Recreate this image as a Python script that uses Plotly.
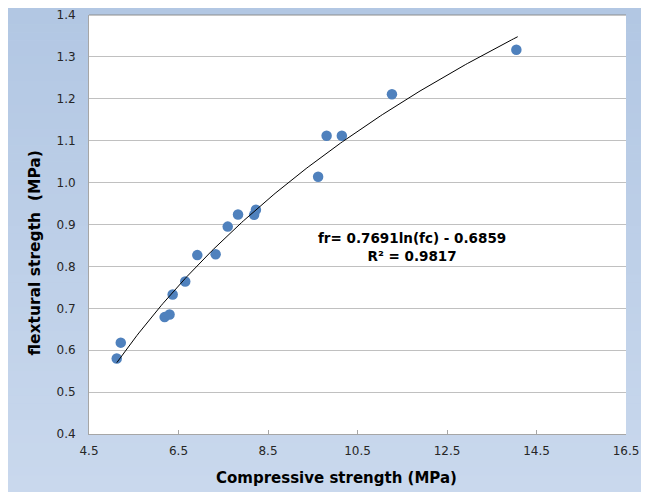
import numpy as np
import plotly.graph_objects as go

# ---- data ----
compressive = [5.12, 5.21, 6.19, 6.30, 6.37, 6.65, 6.92, 7.33, 7.60, 7.83,
               8.19, 8.23, 9.62, 9.81, 10.15, 11.27, 14.05]
flexural = [0.580, 0.618, 0.679, 0.685, 0.733, 0.764, 0.827, 0.829, 0.895, 0.924,
            0.923, 0.935, 1.014, 1.112, 1.112, 1.211, 1.317]

# logarithmic trendline shown on the chart: fr = A ln(fc) + B
TREND_A = 0.7691
TREND_B = -0.6859
trend_start, trend_end = 5.12, 14.08

x_ticks = [4.5, 6.5, 8.5, 10.5, 12.5, 14.5, 16.5]
y_ticks = [0.4, 0.5, 0.6, 0.7, 0.8, 0.9, 1.0, 1.1, 1.2, 1.3, 1.4]

equation_text = "fr= 0.7691ln(fc) - 0.6859<br>R² = 0.9817"
x_title = "Compressive strength (MPa)"
y_title = "flextural stregth \u00a0(MPa)"

FONT = "DejaVu Sans, Liberation Sans, Arial, sans-serif"
TICK_COLOR = "#262626"

trend_x = np.linspace(trend_start, trend_end, 200)
trend_y = TREND_A * np.log(trend_x) + TREND_B

fig = go.Figure()
fig.add_trace(go.Scatter(
    x=compressive, y=flexural, mode="markers",
    marker=dict(color="#4f81bd", size=10.5, line=dict(width=0)),
    showlegend=False, hoverinfo="x+y"))
fig.add_trace(go.Scatter(
    x=trend_x, y=trend_y, mode="lines",
    line=dict(color="black", width=1),
    showlegend=False, hoverinfo="skip"))

# ---- geometry (page has an 8px body margin) ----
OFF = 8
W, H = 649 - OFF, 492 - OFF
plot_left, plot_right, plot_top, plot_bottom = 89, 626, 15, 434  # page px
L = plot_left - OFF
R = W - (plot_right - OFF)
T = plot_top - OFF
B = H - (plot_bottom - OFF)
pw, ph = W - L - R, H - T - B

def px_to_paper_x(px):
    return (px - OFF - L) / pw

def px_to_paper_y(py):
    return (H - B - (py - OFF)) / ph

shapes = []
top_rgb = np.array([178, 199, 227])
bot_rgb = np.array([201, 216, 237])
n_bands = 60
y0_px, y1_px = OFF, OFF + H
band_h = (y1_px - y0_px) / n_bands
for i in range(n_bands):
    t = i / (n_bands - 1)
    c = (top_rgb * (1 - t) + bot_rgb * t).round().astype(int)
    ya = y0_px + i * band_h
    yb = min(ya + band_h + 0.6, y1_px)
    shapes.append(dict(
        type="rect", xref="paper", yref="paper", layer="below",
        x0=px_to_paper_x(OFF), x1=px_to_paper_x(OFF + W),
        y0=px_to_paper_y(yb), y1=px_to_paper_y(ya),
        line=dict(width=0), fillcolor=f"rgb({c[0]},{c[1]},{c[2]})"))
# white plot area
shapes.append(dict(type="rect", xref="paper", yref="paper", layer="below",
                   x0=0, x1=1, y0=0, y1=1, line=dict(width=0), fillcolor="white"))
# darker top border line
shapes.append(dict(type="line", xref="paper", yref="paper", layer="above",
                   x0=0, x1=1, y0=1, y1=1, line=dict(color="#8c8c8c", width=1)))

annotations = [
    dict(text=equation_text, x=11.72, y=0.847, xref="x", yref="y",
         showarrow=False, align="center",
         font=dict(family=FONT, size=13.5, color="black", weight="bold")),
    dict(text=x_title, x=px_to_paper_x(336), y=px_to_paper_y(478),
         xref="paper", yref="paper", showarrow=False,
         xanchor="center", yanchor="middle",
         font=dict(family=FONT, size=15, color="black", weight="bold")),
    dict(text=y_title, x=px_to_paper_x(34), y=px_to_paper_y(253.5),
         xref="paper", yref="paper", showarrow=False, textangle=-90,
         xanchor="center", yanchor="middle",
         font=dict(family=FONT, size=15.5, color="black", weight="bold")),
]

fig.update_layout(
    width=W, height=H,
    margin=dict(l=L, r=R, t=T, b=B, pad=0, autoexpand=False),
    paper_bgcolor="rgb(190,207,232)", plot_bgcolor="white",
    shapes=shapes, annotations=annotations,
    showlegend=False,
    xaxis=dict(range=[4.5, 16.5], tickvals=x_ticks,
               ticktext=[f"{v:.1f}" for v in x_ticks],
               automargin=False,
               showgrid=False, zeroline=False,
               showline=True, linecolor="#a6a6a6", linewidth=1,
               ticks="inside", ticklen=4, tickcolor="#a6a6a6", tickwidth=1,
               ticklabelstandoff=6,
               tickfont=dict(family=FONT, size=12, color=TICK_COLOR)),
    yaxis=dict(range=[0.4, 1.4], tickvals=y_ticks,
               ticktext=[f"{v:.1f}" for v in y_ticks],
               automargin=False,
               showgrid=True, gridcolor="#c0c0c0", gridwidth=1,
               zeroline=False,
               showline=True, linecolor="#a6a6a6", linewidth=1,
               ticks="", ticklabelstandoff=10,
               tickfont=dict(family=FONT, size=12, color=TICK_COLOR)),
)

fig.write_html("out.html")
